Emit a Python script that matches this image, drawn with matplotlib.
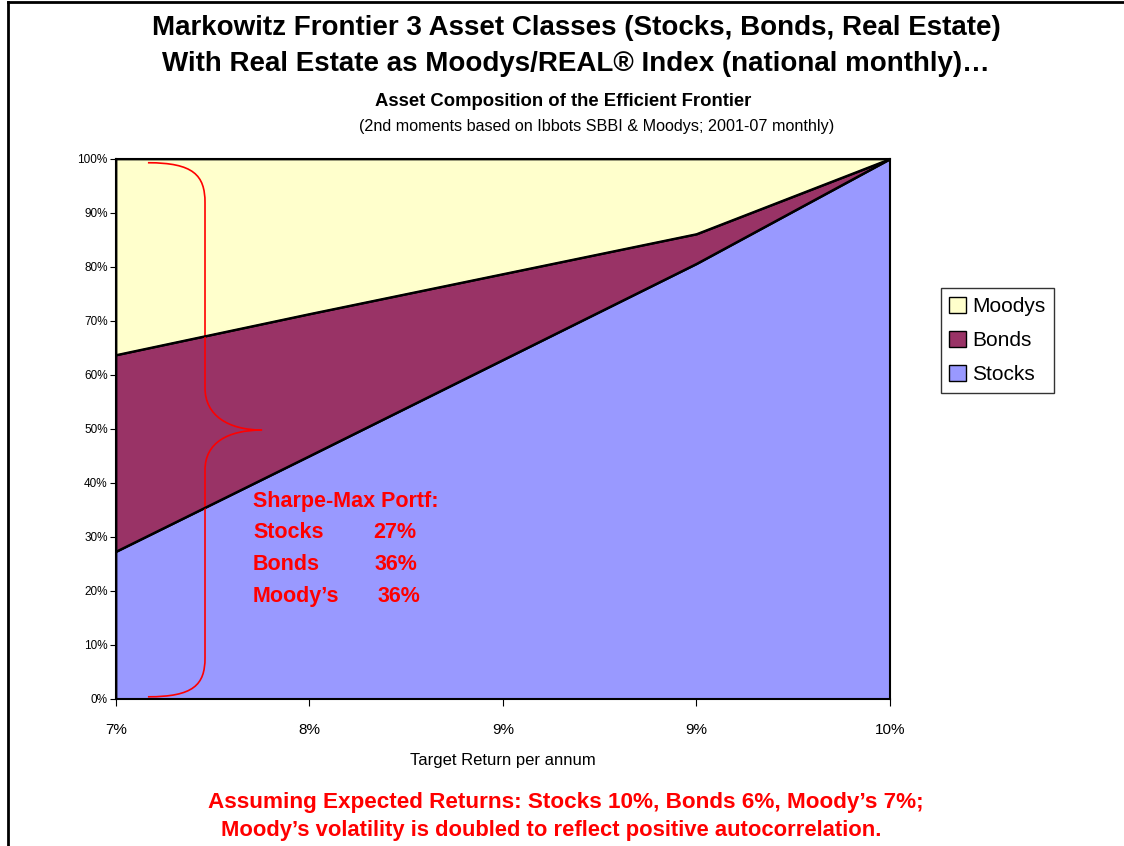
import matplotlib.pyplot as plt
from matplotlib.path import Path
from matplotlib.patches import PathPatch, Rectangle
import numpy as np

plt.rcParams['font.family'] = ['Liberation Sans', 'DejaVu Sans']

# Data (percent of portfolio)
returns = ['7%', '8%', '9%', '9%', '10%']
stocks = [27.3, 45.0, 62.8, 80.6, 100.0]
bonds = [36.4, 26.3, 15.9, 5.5, 0.0]
moodys = [36.3, 28.7, 21.3, 13.9, 0.0]

colors = {'Stocks': '#9999FF', 'Bonds': '#993366', 'Moodys': '#FFFFCC'}

fig = plt.figure(figsize=(11.24, 8.46), dpi=100)
ax = fig.add_axes([0.1032, 0.1738, 0.6886, 0.6383])

x = np.arange(len(returns))
ax.stackplot(x, stocks, bonds, moodys,
             colors=[colors['Stocks'], colors['Bonds'], colors['Moodys']],
             labels=['Stocks', 'Bonds', 'Moodys'],
             edgecolor='black', linewidth=1.3)
s_top = np.array(stocks)
b_top = s_top + np.array(bonds)
ax.plot(x, s_top, color='black', lw=1.3)
ax.plot(x, b_top, color='black', lw=1.3)

ax.set_xlim(0, len(returns) - 1)
ax.set_ylim(0, 100)
ax.set_xticks(x)
ax.set_xticklabels(returns, fontsize=11)
ax.set_yticks(np.arange(0, 101, 10))
ax.set_yticklabels([f'{v}%' for v in range(0, 101, 10)], fontsize=8.5)
ax.tick_params(axis='x', length=5, pad=12, direction='out')
ax.tick_params(axis='y', length=4, pad=2, direction='out')
for sp in ax.spines.values():
    sp.set_linewidth(1.5)
    sp.set_color('black')
ax.set_xlabel('Target Return per annum', fontsize=12, labelpad=12)

# legend in order Moodys, Bonds, Stocks
handles = [Rectangle((0, 0), 1, 1, fc=colors[k], ec='black', lw=1)
           for k in ['Moodys', 'Bonds', 'Stocks']]
leg = fig.legend(handles, ['Moodys', 'Bonds', 'Stocks'],
                 loc='upper left', bbox_to_anchor=(0.837, 0.659),
                 fontsize=15, frameon=True, fancybox=False, edgecolor='black',
                 handlelength=0.8, handleheight=0.8, handletextpad=0.3,
                 labelspacing=0.72, borderpad=0.4, borderaxespad=0)
leg.get_frame().set_linewidth(1)

# red curly brace
verts = [(0.165, 99.3), (0.40, 99.3), (0.46, 97.0), (0.46, 91.9),
         (0.46, 57.6),
         (0.46, 52.5), (0.58, 49.8), (0.755, 49.8),
         (0.58, 49.8), (0.46, 47.5), (0.46, 42.4),
         (0.46, 7.6),
         (0.46, 2.6), (0.40, 0.4), (0.165, 0.4)]
codes = [Path.MOVETO, Path.CURVE4, Path.CURVE4, Path.CURVE4,
         Path.LINETO,
         Path.CURVE4, Path.CURVE4, Path.CURVE4,
         Path.CURVE4, Path.CURVE4, Path.CURVE4,
         Path.LINETO,
         Path.CURVE4, Path.CURVE4, Path.CURVE4]
ax.add_patch(PathPatch(Path(verts, codes), fc='none', ec='red', lw=1.2))

# Sharpe-max annotation
red = '#FF0000'
rows = [('Sharpe-Max Portf:', ''), ('Stocks', '27%'), ('Bonds', '36%'), ("Moody\u2019s", '36%')]
pct_x = [0, 373, 375, 378]
for i, (lab, pct) in enumerate(rows):
    yy = 846 - (501 + i * 31.7)
    fig.text(253 / 1124, yy / 846, lab, color=red, fontsize=15.5, fontweight='bold', va='center')
    if pct:
        fig.text(pct_x[i] / 1124, yy / 846, pct, color=red, fontsize=15.5, fontweight='bold', va='center')

# titles
fig.text(576 / 1124, 1 - 28 / 846, 'Markowitz Frontier 3 Asset Classes (Stocks, Bonds, Real Estate)',
         ha='center', va='center', fontsize=20, fontweight='bold')
fig.text(576 / 1124, 1 - 64 / 846, 'With Real Estate as Moodys/REAL\u00ae Index (national monthly)\u2026',
         ha='center', va='center', fontsize=20, fontweight='bold')
fig.text(563 / 1124, 1 - 101 / 846, 'Asset Composition of the Efficient Frontier',
         ha='center', va='center', fontsize=13.3, fontweight='bold')
fig.text(597 / 1124, 1 - 127 / 846, '(2nd moments based on Ibbots SBBI & Moodys; 2001-07 monthly)',
         ha='center', va='center', fontsize=11.6)

# footer
fig.text(566 / 1124, 1 - 802 / 846, 'Assuming Expected Returns: Stocks 10%, Bonds 6%, Moody\u2019s 7%;',
         ha='center', va='center', fontsize=16.2, fontweight='bold', color=red)
fig.text(551 / 1124, 1 - 830 / 846, 'Moody\u2019s volatility is doubled to reflect positive autocorrelation.',
         ha='center', va='center', fontsize=15.8, fontweight='bold', color=red)

# outer frame (left and top edge visible)
fig.add_artist(plt.Line2D([8 / 1124, 8 / 1124], [0, 1 - 2 / 846], color='black', lw=2,
                          transform=fig.transFigure))
fig.add_artist(plt.Line2D([8 / 1124, 1], [1 - 2 / 846, 1 - 2 / 846], color='black', lw=2,
                          transform=fig.transFigure))

fig.savefig('out.png', dpi=100)
